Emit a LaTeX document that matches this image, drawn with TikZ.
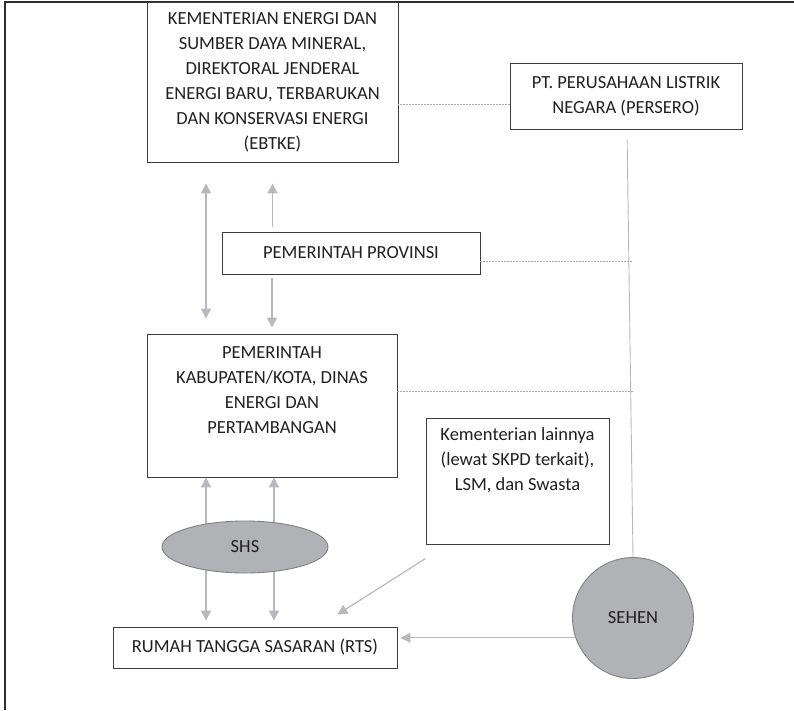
\documentclass[tikz,border=0pt]{standalone}
\usepackage{fontspec}
\setmainfont{Carlito}
\usetikzlibrary{arrows.meta, positioning, backgrounds, calc, shapes.geometric}
\definecolor{framegray}{RGB}{45, 45, 45}
\definecolor{boxgray}{RGB}{60, 60, 60}
\definecolor{inkgray}{RGB}{35, 31, 32}
\definecolor{arrowgray}{RGB}{184, 185, 189}
\definecolor{fillgray}{RGB}{177, 178, 182}
\definecolor{edgegray}{RGB}{128, 129, 133}
\definecolor{dashgray}{RGB}{170, 170, 170}

\begin{document}
\begin{tikzpicture}[x=1pt, y=-1pt,
    box/.style={rectangle, draw=boxgray, line width=0.9pt, fill=white,
                align=center, text=inkgray, inner sep=0pt,
                font=\fontsize{18.5}{25}\selectfont},
    txt/.style={align=center, text=inkgray, inner sep=0pt,
                font=\fontsize{18.5}{25}\selectfont},
    blob/.style={draw=edgegray, line width=0.9pt, fill=fillgray,
                 text=inkgray, inner sep=0pt,
                 font=\fontsize{18.5}{25}\selectfont},
    flow/.style={-{Triangle[width=10pt, length=10pt]}, draw=arrowgray,
                 line width=1.6pt},
    link/.style={draw=dashgray, line width=0.8pt,
                 dash pattern=on 2pt off 1pt},
]
\useasboundingbox (0,0) rectangle (794,710);

%% ── frame ───────────────────────────────────────────────────────────────────
\draw[framegray, line width=1.3pt] (5,710) -- (5,2) -- (794,2);

%% ── institutions ────────────────────────────────────────────────────────────
\node[box, minimum width=251pt, minimum height=160pt] (kesdm) at (272.5,82)
    {KEMENTERIAN ENERGI DAN\\SUMBER DAYA MINERAL,\\DIREKTORAL JENDERAL\\
     ENERGI BARU, TERBARUKAN\\DAN KONSERVASI ENERGI\\(EBTKE)};
\node[box, minimum width=232pt, minimum height=66pt] (pln) at (626,96)
    {PT. PERUSAHAAN LISTRIK\\NEGARA (PERSERO)};
\node[box, minimum width=258pt, minimum height=42pt] (prov) at (351,253)
    {PEMERINTAH PROVINSI};

\node[box, minimum width=250pt, minimum height=143pt] (kab) at (272,405.5) {};
\node[txt, below=13pt of kab.north] (kabtxt)
    {PEMERINTAH\\KABUPATEN/KOTA, DINAS\\ENERGI DAN\\PERTAMBANGAN};

\node[box, minimum width=183pt, minimum height=126pt] (lain) at (517.5,481) {};
\node[txt, below=10pt of lain.north] (laintxt)
    {Kementerian lainnya\\(lewat SKPD terkait),\\LSM, dan Swasta};

\node[box, minimum width=284pt, minimum height=41pt] (rts) at (255,647.5)
    {RUMAH TANGGA SASARAN (RTS)};

%% ── programmes ──────────────────────────────────────────────────────────────
\node[blob, ellipse, minimum width=166pt, minimum height=52pt] (shs) at (245,547) {SHS};
\node[blob, circle, minimum size=121pt] (sehen) at (633,618) {SEHEN};

%% ── dashed coordination lines ───────────────────────────────────────────────
\draw[link] ([yshift=-8pt]pln.west) -- ([yshift=-8pt]pln.west -| kesdm.east);
\draw[link] ([yshift=-8pt]prov.east) -- ([yshift=-8pt]prov.east -| sehen.north);
\draw[link] ([yshift=14pt]kab.east) -- ([yshift=14pt]kab.east -| sehen.north);
\draw[draw=arrowgray, line width=0.9pt, shorten <=10pt] ([xshift=1pt]pln.south) -- (sehen.north);

%% ── vertical flows ──────────────────────────────────────────────────────────
\draw[flow, {Triangle[width=10pt, length=10pt]}-{Triangle[width=10pt, length=10pt]}]
    ([xshift=-66.5pt, yshift=-21pt]kesdm.south) -- ([xshift=-66pt, yshift=15pt]kab.north);
\draw[flow] ([yshift=5pt]prov.north -| kesdm.south) -- ([yshift=-21pt]kesdm.south);
\draw[flow] ([yshift=-4pt]prov.south -| kab.north) -- ([yshift=6pt]kab.north);

\begin{scope}[on background layer]
\draw[flow] ([xshift=-39pt]shs.center) -- ([xshift=-39pt]shs.center |- kab.south);
\draw[flow] ([xshift=29pt]shs.center) -- ([xshift=29pt]shs.center |- kab.south);
\draw[flow] ([xshift=-39pt]shs.center) -- ([xshift=-39pt, yshift=6pt]shs.center |- rts.north);
\draw[flow] ([xshift=29pt]shs.center) -- ([xshift=29pt, yshift=6pt]shs.center |- rts.north);
\end{scope}

%% ── flows into RTS ──────────────────────────────────────────────────────────
\draw[flow, line width=1.2pt] ([yshift=-14pt]lain.south west) -- ([xshift=-60pt, yshift=12pt]rts.north east);
\draw[flow, line width=1.2pt] (sehen.199) -- ([xshift=3pt]sehen.199 -| rts.east);

\end{tikzpicture}
\end{document}
